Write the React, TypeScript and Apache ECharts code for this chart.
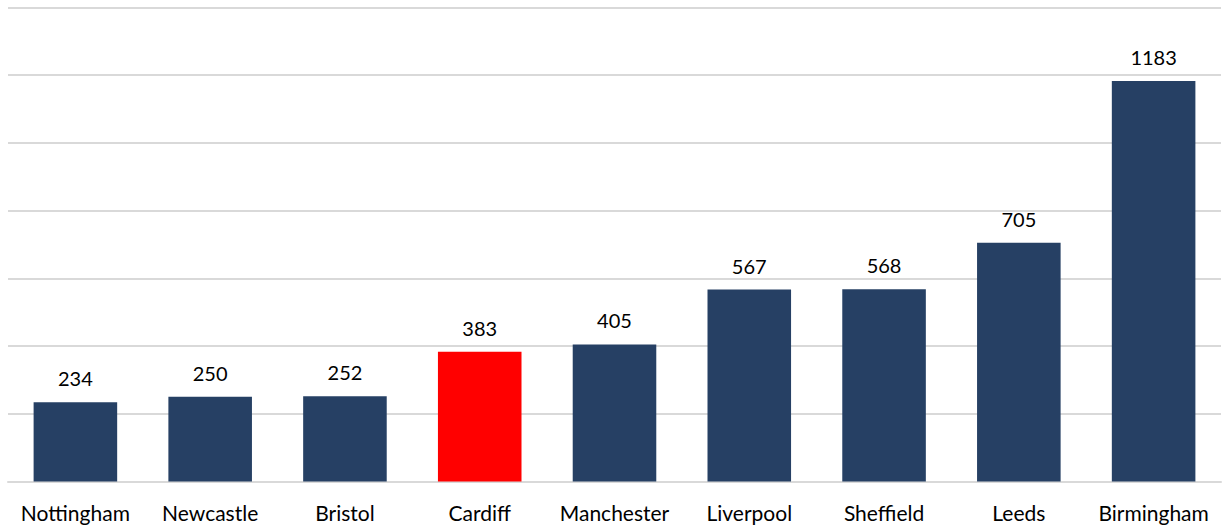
import React, { useEffect, useRef } from "react";
import * as echarts from "echarts";

const cities = ["Nottingham", "Newcastle", "Bristol", "Cardiff", "Manchester", "Liverpool", "Sheffield", "Leeds", "Birmingham"];
const values = [234, 250, 252, 383, 405, 567, 568, 705, 1183];
const highlight = "Cardiff";
const baseColor = "#264064";
const highlightColor = "#ff0000";

export default function App() {
  const ref = useRef<HTMLDivElement>(null);
  useEffect(() => {
    if (!ref.current) return;
    const chart = echarts.init(ref.current, null, { renderer: "svg" });
    chart.setOption({
      animation: false,
      backgroundColor: "#ffffff",
      grid: { left: 8, right: 1, top: 7.5, bottom: 44.5, containLabel: false },
      xAxis: {
        type: "category",
        data: cities,
        axisLine: { show: true, lineStyle: { color: "#d9d9d9", width: 2 } },
        axisTick: { show: false },
        axisLabel: { color: "#000000", fontSize: 21, fontFamily: "Lato", margin: 20, interval: 0, hideOverlap: false },
      },
      yAxis: {
        type: "value",
        min: 0,
        max: 1400,
        interval: 200,
        axisLabel: { show: false },
        axisLine: { show: false },
        axisTick: { show: false },
        splitLine: { lineStyle: { color: "#d9d9d9", width: 2 } },
      },
      series: [
        {
          type: "bar",
          data: values.map((v, i) => ({
            value: v,
            itemStyle: { color: cities[i] === highlight ? highlightColor : baseColor },
          })),
          barWidth: "62%",
          label: {
            show: true,
            position: "top",
            distance: 14,
            color: "#000000",
            fontSize: 20,
            fontFamily: "Lato",
          },
        },
      ],
    });
    return () => chart.dispose();
  }, []);
  return <div ref={ref} style={{ position: "fixed", left: 0, top: 0, width: 1222, height: 526 }} />;
}
